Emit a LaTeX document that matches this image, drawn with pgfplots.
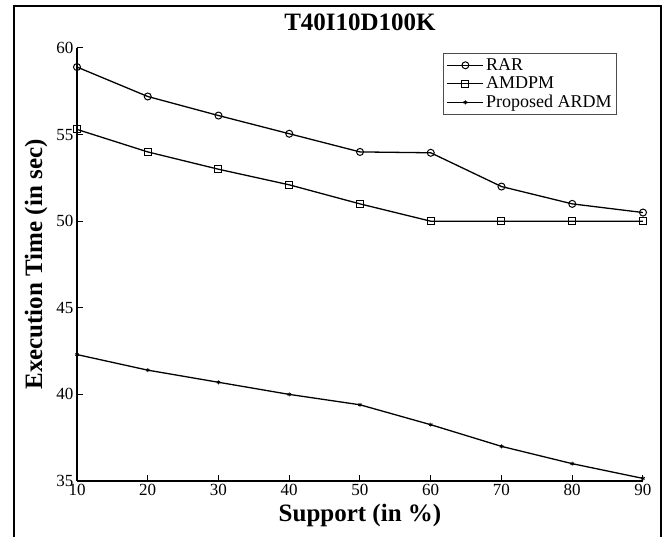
\documentclass[border=0pt]{standalone}
\usepackage{fontspec}
\setmainfont{Liberation Serif}
\usepackage{pgfplots}
\pgfplotsset{compat=1.18}
\begin{document}
\begin{tikzpicture}[x=1pt,y=1pt]
\path (0,0) rectangle (667,537);
\draw[line width=2.5pt] (14,0) -- (14,531);
\draw[line width=2.5pt] (661,0) -- (661,531);
\draw[line width=2.5pt] (12.75,531) -- (662.25,531);
\begin{axis}[
 at={(77pt,56pt)}, anchor=south west,
 scale only axis, width=566pt, height=433pt,
 xmin=10,xmax=90,ymin=35,ymax=60,
 axis x line*=bottom, axis y line*=left,
 axis line style={line width=1.2pt, -},
 xtick={10,20,...,90}, ytick={35,40,...,60},
 tick align=inside, major tick length=6pt,
 tick style={line width=1pt, black},
 ticklabel style={font=\fontsize{17}{19}\selectfont},
 /pgf/number format/assume math mode=true,
 title={T40I10D100K},
 title style={font=\bfseries\fontsize{25}{30}\selectfont, at={(axis description cs:0.5,1.025)}, anchor=south, inner sep=0pt},
 xlabel={Support (in \%)},
 ylabel={Execution Time (in sec)},
 xlabel style={font=\bfseries\fontsize{25}{30}\selectfont, at={(axis description cs:0.5,-0.053)}, anchor=north, inner sep=0pt},
 ylabel style={font=\bfseries\fontsize{25}{30}\selectfont, at={(axis description cs:-0.052,0.5)}, anchor=south, inner sep=0pt},
 legend style={at={(axis description cs:0.954,0.988)}, anchor=north east, draw=black!70, line width=0.8pt,
   font=\fontsize{18}{20}\selectfont, row sep=1pt, inner sep=3pt},
 legend cell align=left,
 legend image code/.code={\draw[mark repeat=2,mark phase=2] plot coordinates {(0pt,0pt) (18pt,0pt) (36pt,0pt)};},
 every axis plot/.append style={line width=1.3pt, black},
]
\addplot[mark=o, mark size=3.5pt, mark options={line width=1pt}] coordinates {
(10,58.9) (20,57.2) (30,56.1) (40,55.05) (50,54.0) (60,53.95) (70,52.0) (80,51.0) (90,50.5)};
\addlegendentry{RAR}
\addplot[mark=square, mark size=3.5pt, mark options={line width=1pt}] coordinates {
(10,55.3) (20,54.0) (30,53.0) (40,52.1) (50,51.0) (60,50.0) (70,50.0) (80,50.0) (90,50.0)};
\addlegendentry{AMDPM}
\addplot[mark=asterisk, mark size=2pt, mark options={line width=0.8pt}] coordinates {
(10,42.3) (20,41.4) (30,40.7) (40,40.0) (50,39.4) (60,38.25) (70,37.0) (80,36.0) (90,35.15)};
\addlegendentry{Proposed ARDM}
\end{axis}
\end{tikzpicture}
\end{document}
